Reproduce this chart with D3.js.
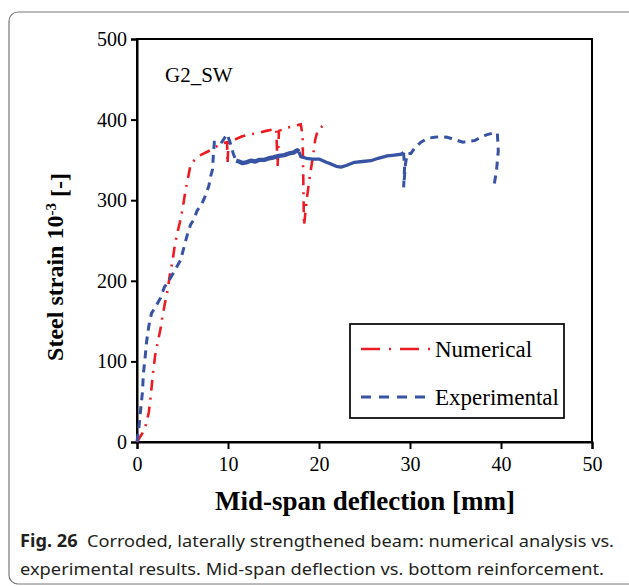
<!DOCTYPE html>
<html>
<head>
<meta charset="utf-8">
<script src="https://cdn.jsdelivr.net/npm/d3@7/dist/d3.min.js"></script>
<style>
  html, body { margin: 0; padding: 0; background: #fff; }
  svg { display: block; }
</style>
</head>
<body>
<svg id="chart" width="629" height="586"></svg>
<script>
// ---- Data ----
const xTicks = [0, 10, 20, 30, 40, 50];
const yTicks = [0, 100, 200, 300, 400, 500];

const numericalX = [0, 0.6, 1.0, 1.3, 1.5, 1.75, 2.0, 2.3, 2.6, 2.8, 3.1, 3.4, 3.6, 3.9, 4.1, 4.4, 4.7, 5.05, 5.3, 5.6, 5.9, 6.8, 7.9, 8.3, 9.3, 9.9, 9.95, 10.05, 10.7, 11.5, 12.1, 13.1, 14.2, 15.0, 15.3, 15.45, 15.6, 16.5, 17.2, 18.0, 18.2, 18.35, 18.7, 19.0, 19.3, 19.6, 19.9, 20.4, 21.0];
const numericalY = [0, 11, 22, 37, 56, 85, 108, 125, 141, 156, 174, 190, 207, 224, 240, 258, 272, 292, 310, 327, 345, 355, 361, 364, 370, 372, 345, 372, 375, 379, 381, 383, 386, 388, 389, 342, 386, 390, 392, 394, 380, 268, 305, 330, 352, 376, 388, 392, 393];

const experimentalX = [0, 0.2, 0.4, 0.6, 0.7, 0.9, 1.06, 1.3, 1.6, 1.9, 2.6, 3.0, 3.5, 4.2, 4.8, 5.1, 5.5, 5.9, 6.2, 6.6, 7.1, 7.5, 7.9, 8.1, 8.3, 8.4, 8.5, 8.8, 9.2, 9.9, 10.2, 10.6, 10.9,
  11.2, 11.6, 12.0, 12.5, 13.0, 13.4, 14.0, 14.5, 15.0, 15.6, 16.2, 16.7, 17.2, 17.6, 17.8, 18.0, 18.6, 19.3, 20.0, 20.8, 21.3, 21.9, 22.4, 23.0, 23.9, 24.8, 25.7, 26.5, 27.5, 28.3, 29.0, 29.3,
  29.4, 29.3, 29.5, 29.7, 30.1, 30.6, 31.2, 32.0, 32.7, 33.4, 34.1, 35.0, 35.8, 36.5, 37.1, 37.8, 38.4, 39.0, 39.6, 39.7, 39.5, 39.2];
const experimentalY = [0, 17, 40, 62, 84, 106, 125, 144, 160, 165, 179, 192, 200, 214, 226, 239, 256, 270, 275, 287, 295, 305, 318, 330, 338, 357, 372, 372, 370, 382, 373, 357, 349,
  348, 346, 347, 349, 348, 350, 350, 352, 353, 355, 356, 358, 359, 362, 360, 354, 352, 351, 351, 347, 345, 342, 341, 343, 347, 348, 349, 352, 355, 356, 357, 359,
  340, 316, 345, 358, 358, 366, 372, 377, 378, 379, 378, 375, 372, 373, 374, 378, 381, 383, 383, 361, 336, 316];
// indices where the dense (solid-looking) stretch of the experimental record starts/ends
const expDenseStart = 32, expThickEnd = 47, expDenseEnd = 64;

const seriesNames = ["Numerical", "Experimental"];
const colors = { Numerical: "#ec1c24", Experimental: "#3953a4" };

// ---- Layout ----
const svg = d3.select("#chart");
const M = { left: 137, right: 592, top: 39, bottom: 442 };
const x = d3.scaleLinear().domain([0, 50]).range([M.left, M.right]);
const y = d3.scaleLinear().domain([0, 500]).range([M.bottom, M.top]);

// outer rounded frame
svg.append("rect").attr("x", 9).attr("y", 12).attr("width", 640).attr("height", 572)
  .attr("rx", 9).attr("fill", "none").attr("stroke", "#7a7a7a").attr("stroke-width", 1.2);

const serif = "'Liberation Serif', 'Times New Roman', serif";

// plot frame
svg.append("rect").attr("x", M.left).attr("y", M.top)
  .attr("width", M.right - M.left).attr("height", M.bottom - M.top)
  .attr("fill", "none").attr("stroke", "#000").attr("stroke-width", 2);

// axes
const xAxis = svg.append("g").attr("transform", `translate(0,${M.bottom})`)
  .call(d3.axisBottom(x).tickValues(xTicks).tickSize(7).tickPadding(5).tickFormat(d3.format("d")));
const yAxis = svg.append("g").attr("transform", `translate(${M.left},0)`)
  .call(d3.axisLeft(y).tickValues(yTicks).tickSize(6).tickPadding(4).tickFormat(d3.format("d")));
[xAxis, yAxis].forEach(g => {
  g.select(".domain").attr("stroke", "#000").attr("stroke-width", 2);
  g.selectAll(".tick line").attr("stroke", "#000").attr("stroke-width", 2);
  g.selectAll(".tick text").attr("fill", "#000").style("font-family", serif).style("font-size", "20px");
});
xAxis.selectAll(".tick text").attr("dy", "0.85em");

// lines
const line = d3.line().x(d => x(d[0])).y(d => y(d[1]));
const numPts = numericalX.map((v, i) => [v, numericalY[i]]);
const expPts = experimentalX.map((v, i) => [v, experimentalY[i]]);

const plot = svg.append("g");
plot.append("path").datum(numPts).attr("d", line)
  .attr("fill", "none").attr("stroke", colors.Numerical).attr("stroke-width", 2.6)
  .attr("stroke-dasharray", "11,7,2,7");

plot.append("path").datum(expPts.slice(0, expDenseStart + 1)).attr("d", line)
  .attr("fill", "none").attr("stroke", colors.Experimental).attr("stroke-width", 3)
  .attr("stroke-dasharray", "8,6");
plot.append("path").datum(expPts.slice(expDenseStart, expThickEnd + 1)).attr("d", line)
  .attr("fill", "none").attr("stroke", colors.Experimental).attr("stroke-width", 4.4)
  .attr("stroke-linejoin", "round");
plot.append("path").datum(expPts.slice(expThickEnd, expDenseEnd + 1)).attr("d", line)
  .attr("fill", "none").attr("stroke", colors.Experimental).attr("stroke-width", 3.3)
  .attr("stroke-linejoin", "round");
plot.append("path").datum(expPts.slice(expDenseEnd)).attr("d", line)
  .attr("fill", "none").attr("stroke", colors.Experimental).attr("stroke-width", 3)
  .attr("stroke-dasharray", "8,6");

// panel label
svg.append("text").attr("x", 165).attr("y", 82).text("G2_SW")
  .style("font-family", serif).style("font-size", "21px").attr("fill", "#000");

// legend
const lg = svg.append("g");
lg.append("rect").attr("x", 350).attr("y", 324).attr("width", 214).attr("height", 94)
  .attr("fill", "#fff").attr("stroke", "#000").attr("stroke-width", 1.7);
const legendRows = [
  { name: seriesNames[0], y: 349, dash: "19,9,2,9", w: 2.6 },
  { name: seriesNames[1], y: 397, dash: "10,8", w: 3 }
];
legendRows.forEach(r => {
  lg.append("line").attr("x1", 361).attr("x2", 430).attr("y1", r.y).attr("y2", r.y)
    .attr("stroke", colors[r.name]).attr("stroke-width", r.w).attr("stroke-dasharray", r.dash);
  lg.append("text").attr("x", 435).attr("y", r.y + 8).text(r.name)
    .style("font-family", serif).style("font-size", "23px").attr("fill", "#000");
});

// axis titles
svg.append("text").attr("x", 365).attr("y", 510).attr("text-anchor", "middle")
  .style("font-family", serif).style("font-size", "27px").style("font-weight", "bold")
  .text("Mid-span deflection [mm]");

const yt = svg.append("text").attr("transform", "translate(63,267) rotate(-90)")
  .attr("text-anchor", "middle")
  .style("font-family", serif).style("font-size", "24px").style("font-weight", "bold");
yt.append("tspan").text("Steel strain 10");
yt.append("tspan").text("-3").attr("dy", "-0.45em").style("font-size", "15px");
yt.append("tspan").text(" [-]").attr("dy", "0.45em");

// caption
const sans = "'Noto Sans', 'Open Sans', sans-serif";
const c1 = svg.append("text").attr("x", 20).attr("y", 547)
  .style("font-family", sans).style("font-size", "17px").attr("fill", "#231f20")
  .attr("textLength", 594).attr("lengthAdjust", "spacingAndGlyphs");
c1.append("tspan").text("Fig. 26").style("font-weight", "bold");
c1.append("tspan").text("\u00a0 Corroded, laterally strengthened beam: numerical analysis vs.");
svg.append("text").attr("x", 20).attr("y", 575)
  .style("font-family", sans).style("font-size", "17px").attr("fill", "#231f20")
  .attr("textLength", 584).attr("lengthAdjust", "spacingAndGlyphs")
  .text("experimental results. Mid-span deflection vs. bottom reinforcement.");
</script>
</body>
</html>
